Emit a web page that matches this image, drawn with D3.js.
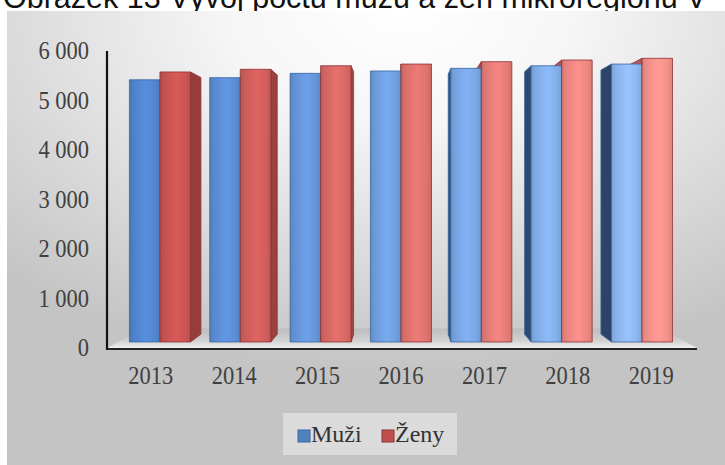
<!DOCTYPE html>
<html><head><meta charset="utf-8">
<script src="https://cdn.jsdelivr.net/npm/d3@7"></script>
<style>body{margin:0;background:#fff;} svg{display:block;}</style>
</head><body>
<svg id="c" width="725" height="465"></svg>
<script>
const titleText = "Obrázek 13 Vývoj počtu mužů a žen mikroregionu V";
const years = ["2013","2014","2015","2016","2017","2018","2019"];
const seriesNames = ["Muži","Ženy"];
const muzi = [5500, 5545, 5635, 5685, 5740, 5795, 5830];
const zeny = [5665, 5720, 5795, 5830, 5880, 5915, 5950];
const yTicks = [0, 1000, 2000, 3000, 4000, 5000, 6000];

const svg = d3.select("#c");
const defs = svg.append("defs");

// background gradient
const bg = defs.append("radialGradient").attr("id","bg")
  .attr("cx","0.55").attr("cy","0.0").attr("r","0.8");
bg.append("stop").attr("offset","0").attr("stop-color","#ffffff");
bg.append("stop").attr("offset","0.3").attr("stop-color","#f6f6f6");
bg.append("stop").attr("offset","1").attr("stop-color","#c4c4c4");

svg.append("text").attr("x",3).attr("y",8)
  .style("font-family","'Liberation Sans', Arial, sans-serif")
  .style("font-size","30.5px").attr("fill","#111").text(titleText);

svg.append("rect").attr("x",7).attr("y",11).attr("width",718).attr("height",454)
  .attr("fill","url(#bg)");

const x = d3.scaleBand().domain(years).range([109,693]).paddingInner(0.24).paddingOuter(0.12);
const xs = d3.scaleBand().domain(seriesNames).range([0, x.bandwidth()]);
const y = d3.scaleLinear().domain([0,6000]).range([348,51]);
const VP = {x:400, y:185};
const proj = (px,py,d) => [VP.x+(px-VP.x)*(1-d), VP.y+(py-VP.y)*(1-d)];
const D0 = 0.037, D1 = 0.085;

// floor
const fg = defs.append("linearGradient").attr("id","floor").attr("x1",0).attr("y1",0).attr("x2",0).attr("y2",1);
fg.append("stop").attr("offset","0").attr("stop-color","#bdbdbd");
fg.append("stop").attr("offset","0.6").attr("stop-color","#d0d0d0");
fg.append("stop").attr("offset","1").attr("stop-color","#eeeeee");
const x0 = 107, x1 = 697;
svg.append("polygon").attr("points",[proj(x0,y(0),0),proj(x1,y(0),0),proj(x1,y(0),0.12),proj(x0,y(0),0.12)].map(p=>p.join(",")).join(" "))
  .attr("fill","url(#floor)");

// bars
const data = years.flatMap((yr,i)=>[
  {yr,i,s:"Muži",v:muzi[i]},
  {yr,i,s:"Ženy",v:zeny[i]}
]);
const blueC = d3.interpolateRgb("#5185cf","#8db6ee");
const redC = d3.interpolateRgb("#c95452","#f3908a");
data.forEach(d=>{
  const t = d.i/(years.length-1);
  d.base = d.s==="Muži" ? blueC(t) : redC(t);
  d.side = d.s==="Muži" ? d3.interpolateRgb("#3a5f95","#2c4468")(t) : d3.interpolateRgb("#963d3c","#b45a58")(t);
  d.stroke = d.s==="Muži" ? "#3b66a0" : "#8c3434";
  d.xl = x(d.yr)+xs(d.s); d.xr = d.xl + xs.bandwidth();
  d.yt = y(d.v); d.yb = y(0);
  const id = "g"+d.i+(d.s==="Muži"?"m":"z");
  d.gid = id;
  const c = d3.color(d.base);
  const g = defs.append("linearGradient").attr("id",id).attr("x1",0).attr("x2",1).attr("y1",0).attr("y2",0);
  [[0,c.darker(0.35)],[0.12,c.darker(0.1)],[0.45,c.brighter(0.15)],[0.55,c.brighter(0.2)],[0.85,c],[1,c.darker(0.25)]]
    .forEach(([o,col])=>g.append("stop").attr("offset",o).attr("stop-color",col.formatHex()));
});
const ptsStr = a => a.map(p=>p.join(",")).join(" ");
const gSide = svg.append("g");
gSide.selectAll("polygon").data(data).join("polygon")
  .attr("points", d=>{
    const xe = ((d.xl+d.xr)/2 < VP.x) ? d.xr : d.xl;
    return ptsStr([proj(xe,d.yt,D0),proj(xe,d.yt,D1),proj(xe,d.yb,D1),proj(xe,d.yb,D0)]);
  })
  .attr("fill",d=>d.side).attr("stroke",d=>d.stroke).attr("stroke-width",0.8);
const gFront = svg.append("g");
gFront.selectAll("polygon").data(data).join("polygon")
  .attr("points", d=>ptsStr([proj(d.xl,d.yt,D0),proj(d.xr,d.yt,D0),proj(d.xr,d.yb,D0),proj(d.xl,d.yb,D0)]))
  .attr("fill",d=>"url(#"+d.gid+")").attr("stroke",d=>d.stroke).attr("stroke-width",0.8);

// axis lines
svg.append("line").attr("x1",x0).attr("x2",x1).attr("y1",y(0)+1).attr("y2",y(0)+1).attr("stroke","#222").attr("stroke-width",2.2);
svg.append("line").attr("x1",x0).attr("x2",x0).attr("y1",y(6000)).attr("y2",y(0)+2).attr("stroke","#111").attr("stroke-width",2.2);

const fmt = v => d3.format(",")(v).replace(/,/g," ");
const serif = "'Liberation Serif', 'Times New Roman', serif";
svg.append("g").selectAll("text").data(yTicks).join("text")
  .attr("transform", v=>`translate(89,${y(v)}) scale(1,1.1)`)
  .attr("text-anchor","end").attr("dominant-baseline","central")
  .style("font-family",serif).style("font-size","22.5px").attr("fill","#404040")
  .text(fmt);
svg.append("g").selectAll("text").data(years).join("text")
  .attr("transform", d=>`translate(${x(d)+x.bandwidth()/2},376) scale(1,1.1)`)
  .attr("text-anchor","middle").attr("dominant-baseline","central")
  .style("font-family",serif).style("font-size","22.5px").attr("fill","#404040")
  .text(d=>d);

// legend
svg.append("rect").attr("x",283).attr("y",413).attr("width",174).attr("height",42).attr("fill","#e6e6e6").attr("opacity",0.7);
const legCols = {"Muži":["#4f81bd","#3a66a0"],"Ženy":["#c0504d","#8c3434"]};
const legX = {"Muži":298,"Ženy":382};
const lg = svg.append("g").selectAll("g").data(seriesNames).join("g")
  .attr("transform", s=>`translate(${legX[s]},430)`);
lg.append("rect").attr("width",12).attr("height",12).attr("fill",s=>legCols[s][0]).attr("stroke",s=>legCols[s][1]);
lg.append("text").attr("x",13).attr("y",12)
  .style("font-family",serif).style("font-size","24px").attr("fill","#333").text(s=>s);
</script>
</body></html>
